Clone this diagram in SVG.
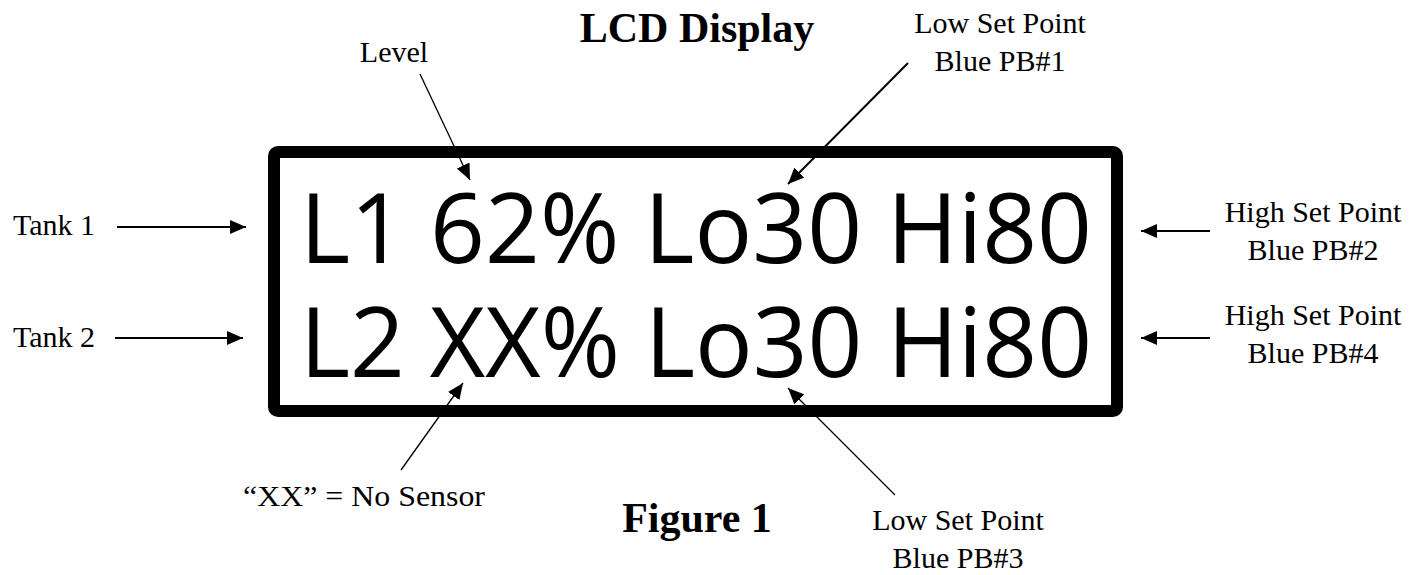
<svg xmlns="http://www.w3.org/2000/svg" width="1425" height="575" viewBox="0 0 1425 575">
<style>
.lbl{font-family:"Liberation Serif","Times New Roman",serif;font-size:30px;fill:#000}
.ttl{font-family:"Liberation Serif","Times New Roman",serif;font-size:42px;font-weight:bold;fill:#000}
.lcd{font-family:"Open Sans","Noto Sans",sans-serif;font-size:97px;fill:#000}
.arr{stroke:#000;stroke-width:2;fill:none;marker-end:url(#ah)}
.thin{stroke:#000;stroke-width:1.3;fill:none;marker-end:url(#ah)}
</style>
<defs>
<marker id="ah" markerUnits="userSpaceOnUse" markerWidth="18" markerHeight="14" refX="16" refY="7" orient="auto">
<path d="M0,0 L16,7 L0,14 Z" fill="#000"/>
</marker>
</defs>
<rect width="1425" height="575" fill="#fff"/>
<g id="lcd">
<rect x="274" y="152" width="843" height="259" rx="4" fill="none" stroke="#000" stroke-width="12"/>
<text class="lcd" x="300" y="263" textLength="792" lengthAdjust="spacingAndGlyphs">L1 62% Lo30 Hi80</text>
<text class="lcd" x="300" y="377" textLength="792" lengthAdjust="spacingAndGlyphs">L2 XX% Lo30 Hi80</text>
</g>
<g id="title"><text class="ttl" x="697" y="42" text-anchor="middle">LCD Display</text></g>
<g id="figure"><text class="ttl" x="697" y="532" text-anchor="middle">Figure 1</text></g>
<g id="level"><text class="lbl" x="394" y="62" text-anchor="middle">Level</text></g>
<g id="lowsp1"><text class="lbl" x="1000" y="33" text-anchor="middle">Low Set Point</text><text class="lbl" x="1000" y="71" text-anchor="middle">Blue PB#1</text></g>
<g id="tank1"><text class="lbl" x="95" y="235" text-anchor="end">Tank 1</text></g>
<g id="tank2"><text class="lbl" x="95" y="347" text-anchor="end">Tank 2</text></g>
<g id="highsp2"><text class="lbl" x="1313" y="222" text-anchor="middle">High Set Point</text><text class="lbl" x="1313" y="260" text-anchor="middle">Blue PB#2</text></g>
<g id="highsp4"><text class="lbl" x="1313" y="325" text-anchor="middle">High Set Point</text><text class="lbl" x="1313" y="363" text-anchor="middle">Blue PB#4</text></g>
<g id="nosensor"><text class="lbl" x="243" y="506" textLength="242" lengthAdjust="spacingAndGlyphs">“XX” = No Sensor</text></g>
<g id="lowsp3"><text class="lbl" x="958" y="530" text-anchor="middle">Low Set Point</text><text class="lbl" x="958" y="568" text-anchor="middle">Blue PB#3</text></g>
<g id="connectors">
<line class="arr" x1="117" y1="227" x2="246" y2="227"/>
<line class="arr" x1="115" y1="338" x2="243" y2="338"/>
<line class="arr" x1="1210" y1="231" x2="1141" y2="231"/>
<line class="arr" x1="1210" y1="338" x2="1141" y2="338"/>
<line class="thin" x1="420" y1="74" x2="470" y2="180"/>
<line class="arr" x1="908" y1="63" x2="788" y2="184"/>
<line class="thin" x1="401" y1="470" x2="463" y2="383"/>
<line class="thin" x1="895" y1="495" x2="788" y2="388"/>
</g>
</svg>
